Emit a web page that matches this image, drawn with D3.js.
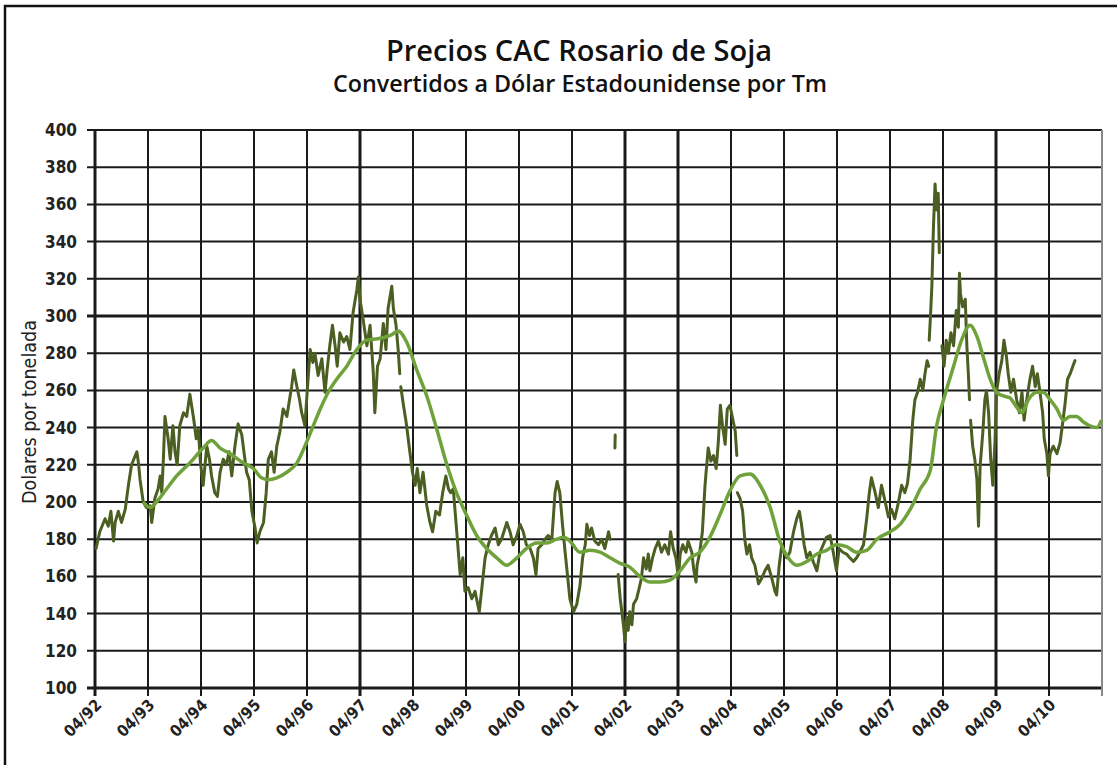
<!DOCTYPE html>
<html>
<head>
<meta charset="utf-8">
<script src="https://cdn.jsdelivr.net/npm/d3@7"></script>
<style>
  body { margin: 0; background: #fff; }
  svg { display: block; }
  .tick-lbl { font-family: "Liberation Sans Narrow", "Arial Narrow", "DejaVu Sans Condensed", sans-serif; font-weight: bold; fill: #222; }
</style>
</head>
<body>
<svg id="chart" width="1117" height="765"></svg>
<script>
// datos (fecha en año decimal, dolares por tonelada)

var tickLabels = ["04/92", "04/93", "04/94", "04/95", "04/96", "04/97", "04/98", "04/99", "04/00", "04/01",
    "04/02", "04/03", "04/04", "04/05", "04/06", "04/07", "04/08", "04/09", "04/10", ""];
var boldYears = ["04/97", "04/02", "04/03", "04/09"];
var yTicks = [100, 120, 140, 160, 180, 200, 220, 240, 260, 280, 300, 320, 340, 360, 380, 400];

// precio diario, en tramos (el grafico original tiene cortes)
var precio92a98 = [[1992.27,175],[1992.34,184],[1992.44,191],[1992.50,187],[1992.55,195],[1992.60,179],[1992.63,189],[1992.69,195],[1992.75,189],[1992.82,196],
    [1992.88,209],[1992.94,220],[1993.04,227],[1993.07,221],[1993.10,212],[1993.16,200],[1993.22,197],[1993.29,198],[1993.32,189],[1993.38,202],
    [1993.44,207],[1993.48,214],[1993.51,205],[1993.54,223],[1993.57,246],[1993.63,234],[1993.67,223],[1993.72,241],[1993.76,227],[1993.80,220],
    [1993.85,241],[1993.92,248],[1993.98,246],[1994.04,258],[1994.11,245],[1994.16,234],[1994.20,239],[1994.24,221],[1994.29,209],[1994.36,230],
    [1994.41,223],[1994.45,214],[1994.51,205],[1994.56,203],[1994.61,216],[1994.67,223],[1994.73,220],[1994.78,227],[1994.83,214],[1994.89,230],
    [1994.95,242],[1995.02,236],[1995.06,227],[1995.11,216],[1995.16,212],[1995.21,195],[1995.27,186],[1995.31,178],[1995.36,184],[1995.43,189],
    [1995.48,205],[1995.52,223],[1995.58,227],[1995.63,216],[1995.68,230],[1995.74,238],[1995.80,250],[1995.87,246],[1995.92,255],[1995.96,262],
    [1996.00,271],[1996.06,262],[1996.11,255],[1996.15,248],[1996.21,241],[1996.26,262],[1996.31,282],[1996.36,275],[1996.40,280],[1996.46,268],
    [1996.53,277],[1996.59,259],[1996.63,271],[1996.68,284],[1996.73,295],[1996.78,284],[1996.82,273],[1996.87,291],[1996.94,286],[1997.00,289],
    [1997.06,282],[1997.12,302],[1997.19,314],[1997.22,321],[1997.25,309],[1997.31,298],[1997.38,284],[1997.44,295],[1997.50,270],[1997.53,248],
    [1997.58,273],[1997.63,277],[1997.69,296],[1997.74,282],[1997.78,304],[1997.85,316],[1997.88,304],[1997.93,295],[1997.97,282],[1998.00,269]];

var precio98a01 = [[1998.02,262],[1998.07,252],[1998.12,243],[1998.16,234],[1998.19,227],[1998.24,216],[1998.29,209],[1998.33,218],[1998.38,205],[1998.44,216],
    [1998.51,198],[1998.57,189],[1998.62,184],[1998.68,195],[1998.75,193],[1998.81,205],[1998.87,214],[1998.92,207],[1998.96,205],[1999.01,207],
    [1999.07,186],[1999.14,161],[1999.19,170],[1999.23,152],[1999.29,154],[1999.36,148],[1999.42,152],[1999.50,141],[1999.55,154],[1999.61,170],
    [1999.67,177],[1999.73,182],[1999.80,186],[1999.86,177],[1999.92,180],[2000.02,189],[2000.08,184],[2000.14,177],[2000.21,182],[2000.27,188],
    [2000.33,184],[2000.39,177],[2000.46,175],[2000.52,170],[2000.57,161],[2000.61,175],[2000.68,177],[2000.74,180],[2000.80,182],[2000.87,180],
    [2000.93,205],[2000.97,211],[2001.02,205],[2001.07,188],[2001.12,173],[2001.16,162],[2001.21,148],[2001.28,141],[2001.34,145],[2001.40,155],
    [2001.45,170],[2001.50,177],[2001.53,188],[2001.58,182],[2001.62,186],[2001.68,179],[2001.75,177],[2001.81,180],[2001.87,175],[2001.94,184],
    [2001.97,180]];

var precio02suelto = [[2002.06,229],[2002.065,236]];

var precio02a04 = [[2002.12,161],[2002.16,148],[2002.19,141],[2002.22,134],[2002.25,125],[2002.28,138],[2002.31,131],[2002.34,141],[2002.38,134],[2002.41,145],
    [2002.47,148],[2002.52,154],[2002.56,159],[2002.60,170],[2002.65,164],[2002.69,172],[2002.72,163],[2002.77,170],[2002.82,175],[2002.88,179],
    [2002.94,173],[2003.00,177],[2003.07,172],[2003.11,184],[2003.16,175],[2003.21,170],[2003.26,159],[2003.29,172],[2003.34,177],[2003.40,173],
    [2003.44,179],[2003.51,173],[2003.55,163],[2003.59,157],[2003.61,166],[2003.66,173],[2003.71,184],[2003.76,209],[2003.78,216],[2003.82,229],
    [2003.87,222],[2003.92,225],[2003.97,218],[2004.01,232],[2004.05,252],[2004.09,241],[2004.14,231],[2004.18,250],[2004.23,252],[2004.28,245],
    [2004.33,238],[2004.36,225]];

var precio04a07 = [[2004.37,205],[2004.42,202],[2004.47,195],[2004.51,180],[2004.55,172],[2004.60,177],[2004.64,170],[2004.70,166],[2004.77,156],[2004.83,159],
    [2004.89,163],[2004.95,166],[2005.02,159],[2005.08,152],[2005.11,150],[2005.16,166],[2005.21,177],[2005.25,173],[2005.30,170],[2005.36,173],
    [2005.43,184],[2005.49,191],[2005.54,195],[2005.58,188],[2005.63,177],[2005.68,170],[2005.74,173],[2005.80,168],[2005.87,163],[2005.93,173],
    [2005.99,177],[2006.05,181],[2006.12,182],[2006.18,173],[2006.24,163],[2006.29,175],[2006.36,173],[2006.43,172],[2006.49,170],[2006.56,168],
    [2006.62,170],[2006.68,173],[2006.75,177],[2006.81,191],[2006.86,205],[2006.90,213],[2006.97,205],[2007.03,197],[2007.09,209],[2007.16,200],
    [2007.22,192],[2007.28,196],[2007.34,191],[2007.41,200],[2007.47,209],[2007.53,205],[2007.58,210],[2007.63,223],[2007.68,244],[2007.72,255],
    [2007.77,259],[2007.82,266],[2007.87,260],[2007.91,269],[2007.95,276],[2007.98,273]];

var precio08pico = [[2007.99,287],[2008.01,298],[2008.04,316],[2008.07,348],[2008.10,371],[2008.13,357],[2008.16,366],[2008.18,334]];

var precio08 = [[2008.23,284],[2008.27,273],[2008.31,287],[2008.35,280],[2008.40,291],[2008.45,284],[2008.50,303],[2008.54,294],[2008.56,323],[2008.58,312],
    [2008.62,305],[2008.67,309],[2008.70,284],[2008.73,268],[2008.75,255]];

var precio08a10 = [[2008.77,244],[2008.81,230],[2008.85,223],[2008.89,212],[2008.92,187],[2008.95,219],[2009.00,237],[2009.04,255],[2009.07,260],[2009.11,248],
    [2009.15,223],[2009.19,209],[2009.23,232],[2009.26,259],[2009.31,269],[2009.36,276],[2009.40,287],[2009.44,280],[2009.48,269],[2009.53,259],
    [2009.58,266],[2009.64,255],[2009.69,248],[2009.74,259],[2009.78,244],[2009.83,255],[2009.89,266],[2009.94,273],[2009.99,262],[2010.03,269],
    [2010.08,259],[2010.13,248],[2010.16,234],[2010.21,226],[2010.24,214],[2010.27,226],[2010.33,230],[2010.40,226],[2010.46,232],[2010.51,243],
    [2010.55,252],[2010.60,266],[2010.65,269],[2010.70,273],[2010.74,276]];

// promedio movil (linea verde clara)
var promedio = [[1993.16,200],[1993.29,197],[1993.41,200],[1993.60,207],[1993.79,214],[1994.04,221],[1994.29,229],[1994.45,233],[1994.61,229],[1994.80,226],
    [1995.05,221],[1995.24,218],[1995.39,213],[1995.52,212],[1995.68,213],[1995.87,216],[1996.06,221],[1996.21,230],[1996.34,239],[1996.50,250],
    [1996.65,259],[1996.81,266],[1997.00,273],[1997.19,282],[1997.38,287],[1997.63,288],[1997.85,290],[1997.97,292],[1998.13,286],[1998.32,271],
    [1998.51,257],[1998.70,239],[1998.89,220],[1999.07,205],[1999.26,193],[1999.45,182],[1999.64,175],[1999.83,170],[2000.02,166],[2000.21,170],
    [2000.39,175],[2000.58,178],[2000.77,178],[2000.96,180],[2001.09,181],[2001.21,179],[2001.40,173],[2001.59,174],[2001.78,173],[2001.97,170],
    [2002.16,167],[2002.34,165],[2002.53,160],[2002.72,157],[2002.91,157],[2003.10,158],[2003.29,163],[2003.48,170],[2003.66,173],[2003.85,181],
    [2004.04,193],[2004.23,206],[2004.42,214],[2004.61,215],[2004.80,209],[2004.99,197],[2005.17,179],[2005.33,170],[2005.49,166],[2005.68,168],
    [2005.87,172],[2006.05,174],[2006.24,177],[2006.43,176],[2006.62,173],[2006.81,174],[2007.00,180],[2007.25,184],[2007.44,188],[2007.63,196],
    [2007.82,207],[2008.01,217],[2008.13,241],[2008.26,255],[2008.45,273],[2008.60,287],[2008.76,295],[2008.89,289],[2009.01,278],[2009.14,266],
    [2009.26,259],[2009.39,257],[2009.51,256],[2009.64,251],[2009.74,248],[2009.86,255],[2010.02,259],[2010.14,259],[2010.27,255],[2010.40,250],
    [2010.52,244],[2010.65,246],[2010.77,246],[2010.90,243],[2011.02,241],[2011.15,240],[2011.24,244]];

var tramos = [precio92a98, precio98a01, precio02suelto, precio02a04, precio04a07, precio08pico, precio08, precio08a10];

var svg = d3.select("#chart"),
    margin = { top: 130, right: 15, bottom: 77, left: 95 },
    width = +svg.attr("width") - margin.left - margin.right,
    height = +svg.attr("height") - margin.top - margin.bottom;

var tickYears = tickLabels.map(function (d, i) { return 1992.25 + i; });

var x = d3.scaleLinear().domain([1992.25, 2011.25]).range([0, width]);
var y = d3.scaleLinear().domain([100, 400]).range([height, 0]);

// marco exterior
svg.append("rect")
    .attr("x", 5).attr("y", 6)
    .attr("width", 1130).attr("height", 780)
    .attr("fill", "none").attr("stroke", "#111").attr("stroke-width", 2.5);

// titulos
svg.append("text")
    .attr("x", 579).attr("y", 61)
    .attr("text-anchor", "middle")
    .style("font-family", "'Open Sans', 'Noto Sans', sans-serif")
    .style("font-weight", 600)
    .style("font-size", "29px")
    .style("fill", "#111")
    .text("Precios CAC Rosario de Soja");

svg.append("text")
    .attr("x", 580).attr("y", 92)
    .attr("text-anchor", "middle")
    .style("font-family", "'Open Sans', 'Noto Sans', sans-serif")
    .style("font-weight", 600)
    .style("font-size", "23.3px")
    .style("fill", "#111")
    .text("Convertidos a Dólar Estadounidense por Tm");

svg.append("text")
    .attr("transform", "translate(36,412) rotate(-90)")
    .attr("text-anchor", "middle")
    .style("font-family", "'Liberation Sans Narrow', 'Arial Narrow', 'DejaVu Sans Condensed', sans-serif")
    .style("font-size", "19.5px")
    .style("fill", "#222")
    .text("Dolares por tonelada");

var g = svg.append("g")
    .attr("transform", "translate(" + margin.left + "," + margin.top + ")");

// grilla horizontal
g.append("g").selectAll("line")
    .data(yTicks)
    .enter().append("line")
    .attr("x1", -8).attr("x2", width)
    .attr("y1", function (d) { return y(d); })
    .attr("y2", function (d) { return y(d); })
    .attr("stroke", "#1a1a1a")
    .attr("stroke-width", function (d) { return (d === 300 || d === 100) ? 3 : 2; });

// grilla vertical
g.append("g").selectAll("line")
    .data(tickYears)
    .enter().append("line")
    .attr("x1", function (d) { return x(d); })
    .attr("x2", function (d) { return x(d); })
    .attr("y1", 0).attr("y2", height + 8)
    .attr("stroke", function (d, i) { return i === tickYears.length - 1 ? "#888" : "#1a1a1a"; })
    .attr("stroke-width", function (d, i) {
        return (i === 0 || boldYears.indexOf(tickLabels[i]) >= 0) ? 3 : 2;
    });

// ejes (solo etiquetas)
g.append("g")
    .call(d3.axisLeft(y).tickValues(yTicks).tickSize(0).tickPadding(18))
    .call(function (a) { a.select(".domain").remove(); })
    .selectAll("text")
    .attr("class", "tick-lbl")
    .style("font-size", "17px");

var xAxis = g.append("g")
    .attr("transform", "translate(0," + height + ")")
    .call(d3.axisBottom(x).tickValues(tickYears).tickSize(0)
        .tickFormat(function (d, i) { return tickLabels[i]; }));
xAxis.select(".domain").remove();
xAxis.selectAll("text")
    .attr("class", "tick-lbl")
    .style("font-size", "16px")
    .attr("y", 0).attr("dy", 0)
    .attr("text-anchor", "end")
    .attr("transform", "translate(7,18) rotate(-45)");

// lineas de datos
var line = d3.line()
    .x(function (d) { return x(d[0]); })
    .y(function (d) { return y(d[1]); });

g.append("g").selectAll("path")
    .data(tramos)
    .enter().append("path")
    .attr("d", line)
    .attr("fill", "none")
    .attr("stroke", "#4b5f22")
    .attr("stroke-width", 3)
    .attr("stroke-linejoin", "round")
    .attr("stroke-linecap", "round");

g.append("path")
    .datum(promedio)
    .attr("d", line.curve(d3.curveMonotoneX))
    .attr("fill", "none")
    .attr("stroke", "#6fa23a")
    .attr("stroke-width", 3.5)
    .attr("stroke-linejoin", "round");
</script>
</body>
</html>
